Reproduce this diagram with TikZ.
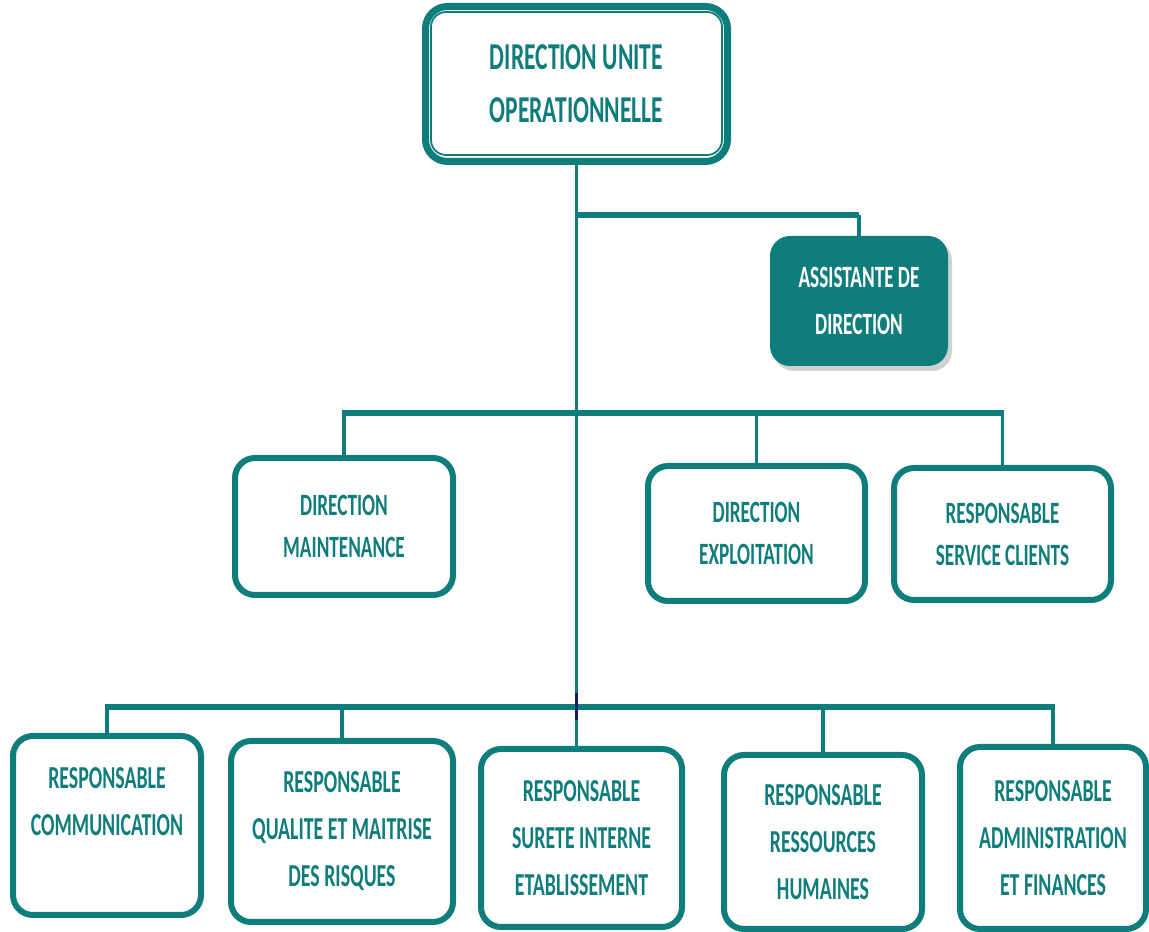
\documentclass[tikz,border=0pt]{standalone}
\usepackage{fontspec}
\setmainfont{Carlito}
\newfontfamily\cfont[FakeStretch=0.62]{Carlito}
\usetikzlibrary{shadows}
\definecolor{teal0}{RGB}{14,125,123}
\definecolor{navyd}{RGB}{20,30,100}
\begin{document}
\begin{tikzpicture}[x=1pt,y=1pt,
  box/.style={draw=teal0, line width=6pt, rounded corners=20pt, fill=white, align=center,
    text=teal0, font=\cfont\bfseries\fontsize{32}{47}\selectfont, inner sep=0pt},
  midbox/.style={box, font=\cfont\bfseries\fontsize{31}{42}\selectfont},
  topbox/.style={box, line width=7pt, rounded corners=22pt, font=\cfont\bfseries\fontsize{38}{53}\selectfont},
  assbox/.style={fill=teal0, draw=none, rounded corners=20pt, align=center, text=white,
    font=\cfont\bfseries\fontsize{31}{47}\selectfont, inner sep=0pt,
    drop shadow={shadow xshift=4pt, shadow yshift=-5pt, opacity=0.3, fill=black!60}},
  bus/.style={draw=teal0, line width=6.5pt},
  drop/.style={draw=teal0, line width=3.5pt},
  mainline/.style={draw=teal0, line width=3pt},
]
\useasboundingbox (0,0) rectangle (1149,932);

% nodes
\node[topbox, minimum width=302pt, minimum height=155pt] (top) at (576.5,848) {DIRECTION UNITE\\OPERATIONNELLE};
\draw[teal0, line width=1.8pt, rounded corners=15pt] ([shift={(9,-9)}]top.north west) rectangle ([shift={(-9,10)}]top.south east);

\node[assbox, minimum width=178pt, minimum height=130pt] (ass) at (859,631) {ASSISTANTE DE\\DIRECTION};

\node[midbox, minimum width=218pt, minimum height=137pt] (maint) at (344,405.5) {DIRECTION\\MAINTENANCE};
\node[midbox, minimum width=217pt, minimum height=135pt] (expl) at (756.5,398.5) {DIRECTION\\EXPLOITATION};
\node[midbox, minimum width=217pt, minimum height=132pt] (serv) at (1002.5,398) {RESPONSABLE\\SERVICE CLIENTS};

\node[box, minimum width=188pt, minimum height=179pt] (comm) at (107,106.5) {RESPONSABLE\\COMMUNICATION\\~};
\node[box, minimum width=222pt, minimum height=181pt] (qual) at (342,100.5) {RESPONSABLE\\QUALITE ET MAITRISE\\DES RISQUES};
\node[box, minimum width=201pt, minimum height=178pt] (sur) at (581.5,94) {RESPONSABLE\\SURETE INTERNE\\ETABLISSEMENT};
\node[box, minimum width=198pt, minimum height=174pt] (rh) at (823,90) {RESPONSABLE\\RESSOURCES\\HUMAINES};
\node[box, minimum width=186pt, minimum height=182pt] (adm) at (1053,94) {RESPONSABLE\\ADMINISTRATION\\ET FINANCES};

% bus coordinates
\coordinate (abus) at (0,717);
\coordinate (mbus) at (0,519);
\coordinate (bbus) at (0,225);
\coordinate (dk1) at (0,239);
\coordinate (dk2) at (0,212);

% connectors
\draw[mainline] (top.south) -- (top.south |- sur.north);
\draw[bus] (top.south |- abus) -- (ass.north |- abus);
\draw[drop] (ass.north |- abus) -- (ass.north);

\draw[bus] ([xshift=-1.75pt]maint.north |- mbus) -- ([xshift=1.75pt]serv.north |- mbus);
\draw[drop] (maint.north |- mbus) -- (maint.north);
\draw[drop] (expl.north |- mbus) -- (expl.north);
\draw[drop] (serv.north |- mbus) -- (serv.north);

\draw[bus] ([xshift=-1.75pt]comm.north |- bbus) -- ([xshift=1.75pt]adm.north |- bbus);
\draw[drop] (comm.north |- bbus) -- (comm.north);
\draw[drop] (qual.north |- bbus) -- (qual.north);
\draw[drop] (rh.north |- bbus) -- (rh.north);
\draw[drop] (adm.north |- bbus) -- (adm.north);
\draw[navyd, line width=3pt] (top.south |- dk1) -- (top.south |- dk2);
\end{tikzpicture}
\end{document}
